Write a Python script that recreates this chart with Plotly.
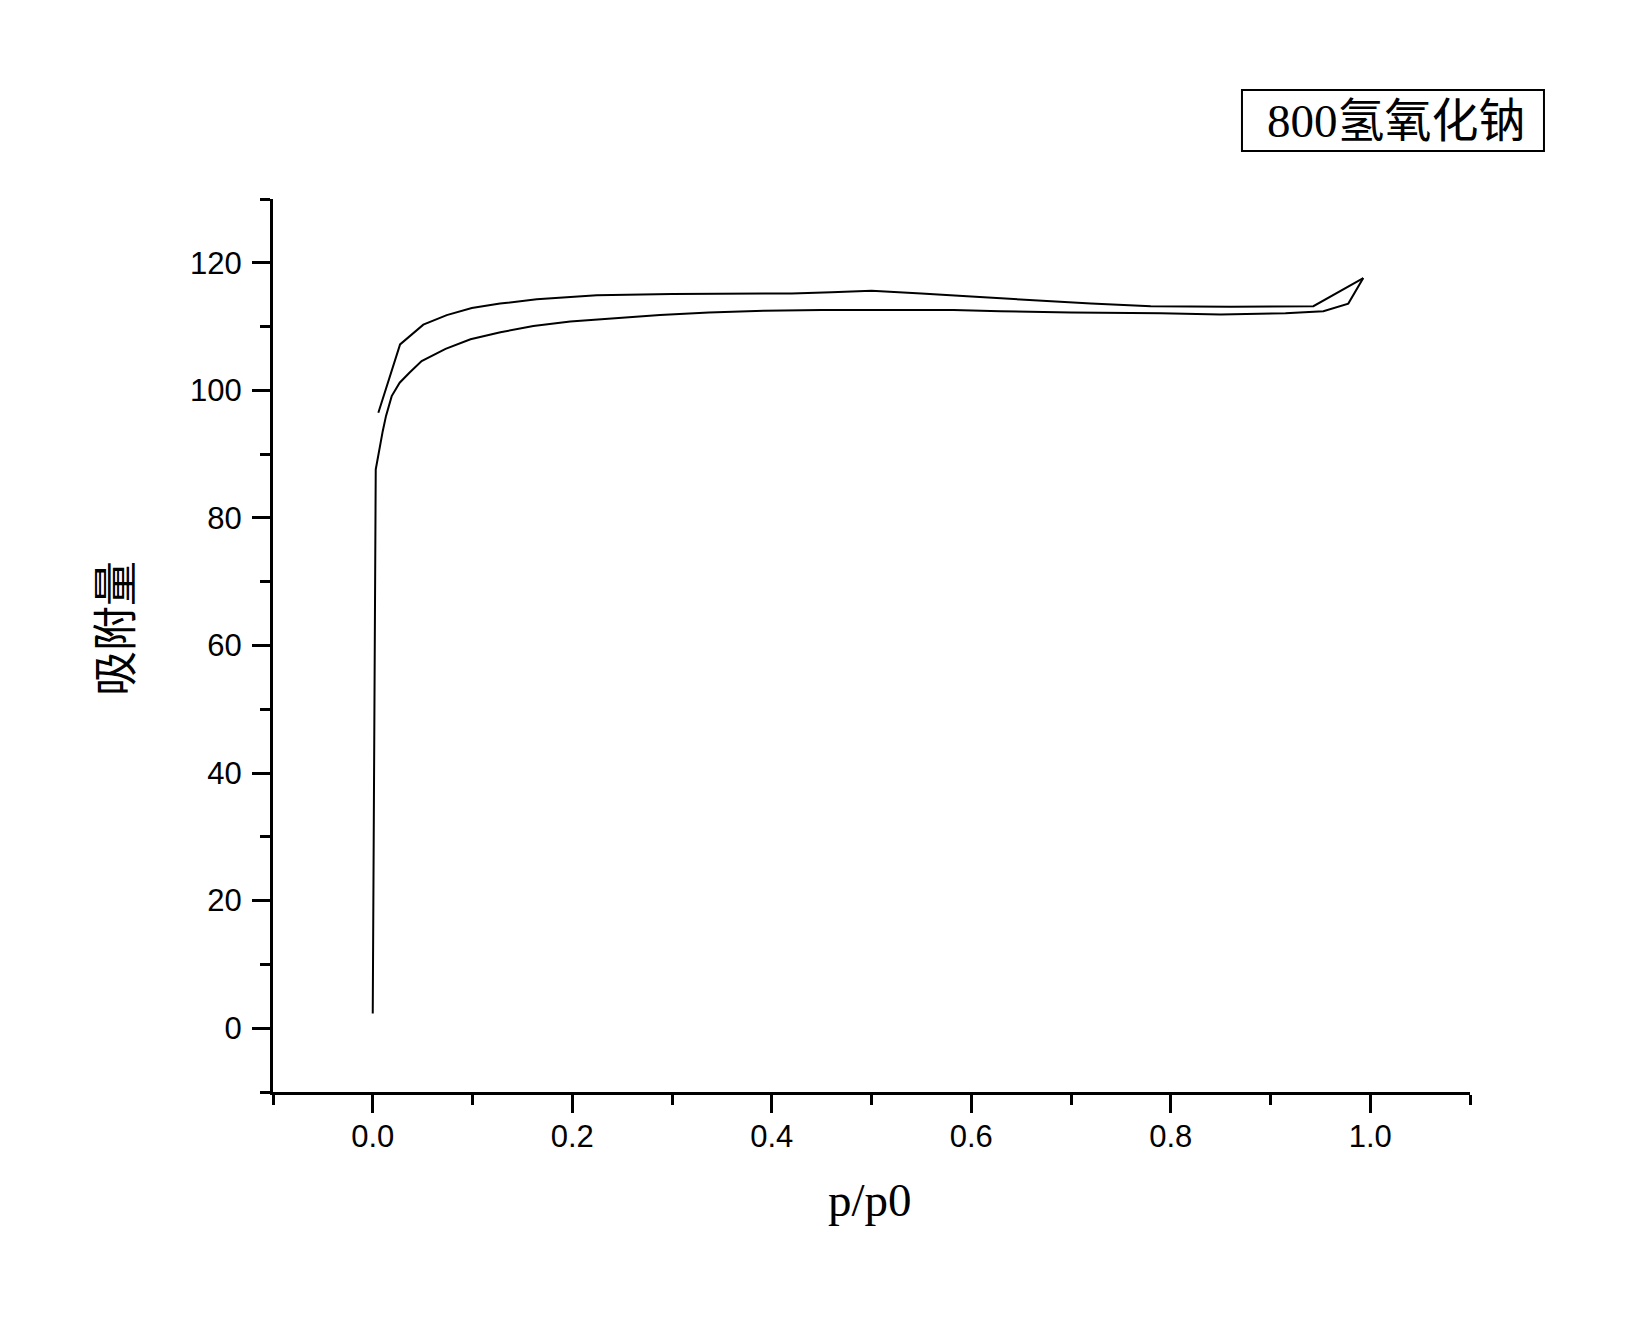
import plotly.graph_objects as go

# Adsorption branch (lower curve)
ads_x = [0.0, 0.003, 0.010, 0.0133, 0.019, 0.027, 0.037, 0.049, 0.073, 0.098,
         0.128, 0.161, 0.198, 0.241, 0.288, 0.337, 0.392, 0.45, 0.52, 0.582,
         0.629, 0.70, 0.79, 0.85, 0.915, 0.953, 0.978, 0.993]
ads_y = [2.3, 87.6, 93.6, 96.0, 99.1, 101.2, 102.8, 104.6, 106.5, 108.0,
         109.1, 110.1, 110.8, 111.3, 111.8, 112.2, 112.5, 112.6, 112.6, 112.6,
         112.4, 112.2, 112.1, 111.9, 112.1, 112.4, 113.6, 117.6]

# Desorption branch (upper curve)
des_x = [0.993, 0.943, 0.86, 0.78, 0.72, 0.66, 0.60, 0.55, 0.50, 0.46, 0.42,
         0.30, 0.2246, 0.1945, 0.1644, 0.1276, 0.0993, 0.0742, 0.0507, 0.0274, 0.0056]
des_y = [117.6, 113.2, 113.1, 113.2, 113.6, 114.1, 114.7, 115.2, 115.6, 115.4, 115.2,
         115.1, 114.9, 114.6, 114.3, 113.6, 112.9, 111.8, 110.3, 107.2, 96.5]

x_title = "p/p0"
y_title = "吸附量"
legend_text = "800氢氧化钠"

serif = "Liberation Serif, Noto Sans CJK SC, serif"
sans = "Liberation Sans, Arial, sans-serif"

fig = go.Figure()
fig.add_trace(go.Scatter(x=ads_x, y=ads_y, mode="lines",
                         line=dict(color="black", width=2), showlegend=False))
fig.add_trace(go.Scatter(x=des_x, y=des_y, mode="lines",
                         line=dict(color="black", width=2), showlegend=False))

axis_common = dict(
    showgrid=False, zeroline=False, showline=True, linecolor="black", linewidth=3,
    ticks="outside", ticklen=18, tickwidth=3, tickcolor="black",
    tickfont=dict(family=sans, size=31, color="black"),
)

fig.update_xaxes(range=[-0.1, 1.1], tick0=0, dtick=0.2, tickformat=".1f",
                 ticklabelstandoff=-3,
                 minor=dict(ticks="outside", dtick=0.1, tick0=0, ticklen=10,
                            tickwidth=3, tickcolor="black"),
                 **axis_common)
fig.update_yaxes(range=[-10, 130], tick0=0, dtick=20,
                 ticklabelstandoff=4,
                 minor=dict(ticks="outside", dtick=10, tick0=0, ticklen=10,
                            tickwidth=3, tickcolor="black"),
                 **axis_common)

fig.update_layout(
    width=1633, height=1317,
    margin=dict(l=265, r=171, t=191, b=233),
    paper_bgcolor="white", plot_bgcolor="white",
    showlegend=False,
)

# axis titles
fig.add_annotation(text=x_title, xref="paper", yref="paper", x=0.4987, y=-0.121,
                   showarrow=False, font=dict(family=serif, size=47, color="black"),
                   xanchor="center", yanchor="middle")
fig.add_annotation(text=y_title, xref="paper", yref="paper", x=-0.1303, y=0.5185,
                   showarrow=False, textangle=-90,
                   font=dict(family=serif, size=45, color="black"),
                   xanchor="center", yanchor="middle")

# legend box
fig.add_shape(type="rect", xref="paper", yref="paper",
              x0=0.8095, x1=1.0618, y0=1.0538, y1=1.1221,
              line=dict(color="black", width=2), fillcolor="white")
fig.add_annotation(text=legend_text, xref="paper", yref="paper", x=0.939, y=1.0875,
                   showarrow=False, font=dict(family=serif, size=47, color="black"),
                   xanchor="center", yanchor="middle")

fig.write_html("out.html")
